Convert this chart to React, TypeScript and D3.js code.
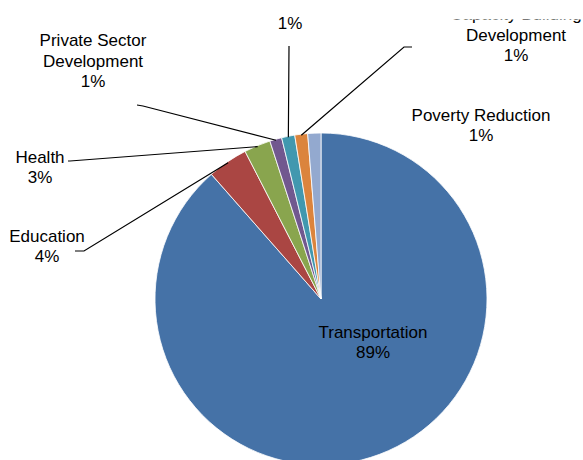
import React, { useEffect, useRef } from "react";
import * as d3 from "d3";

const sectors = [
  "Transportation",
  "Education",
  "Health",
  "Private Sector Development",
  "Energy",
  "Capacity Building Development",
  "Poverty Reduction",
];
const shares = [88.52, 3.92, 2.58, 1.17, 1.28, 1.25, 1.28];
const colors = ["#4572A7", "#AA4643", "#89A54E", "#71588F", "#4198AF", "#DB843D", "#93A9CF"];

// label text lines (name lines, percentage is added below them)
// the top of the reference is cropped, so the 5th slice's name is not shown
const labelLines = [
  ["Transportation"],
  ["Education"],
  ["Health"],
  ["Private Sector", "Development"],
  [],
  ["Capacity Building", "Development"],
  ["Poverty Reduction"],
];

const App = () => {
  const svgRef: any = useRef();

  useEffect(() => {
    const svg = d3.select(svgRef.current);
    svg.selectAll("*").remove();
    const width = 583;
    const height = 460;
    const cx = 321;
    const cy = 299;
    const r = 166;
    const lineH = 20.5;

    // label anchors (x center, baseline of last line), leader elbow, clip top
    const labelPos: any[] = [
      { x: 373, y: 358, leader: null, top: 0 },
      { x: 47, y: 262, leader: [[75, 251], [84, 251]], top: 0 },
      { x: 40, y: 183, leader: [[68, 161], [70, 161]], top: 0 },
      { x: 93, y: 87, leader: [[137, 105], [143, 106]], top: 0 },
      { x: 290, y: 29, leader: [[289, 46], [289, 47]], top: 0 },
      { x: 516, y: 61, leader: [[412, 47], [404, 47]], top: 19.5 },
      { x: 481, y: 141, leader: null, top: 0 },
    ];

    svg.attr("width", width).attr("height", height);

    const data = sectors.map((s, i) => ({ name: s, value: shares[i], i }));
    const pie = d3.pie<any>().sort(null).value((d) => d.value);
    const arcs = pie(data);
    const arc = d3.arc<any>().innerRadius(0).outerRadius(r);

    const g = svg.append("g").attr("transform", `translate(${cx},${cy})`);
    g.selectAll("path")
      .data(arcs)
      .join("path")
      .attr("d", arc)
      .attr("fill", (d) => colors[d.data.i])
      .attr("stroke", "#fff")
      .attr("stroke-width", 0.8);

    // leader lines
    const lineGen = d3.line();
    arcs.forEach((a, i) => {
      const p = labelPos[i];
      if (!p.leader) return;
      const mid = (a.startAngle + a.endAngle) / 2;
      const end: [number, number] = [cx + Math.sin(mid) * (r - 1), cy - Math.cos(mid) * (r - 1)];
      svg
        .append("path")
        .attr("d", lineGen([...p.leader, end] as any))
        .attr("fill", "none")
        .attr("stroke", "#000")
        .attr("stroke-width", 1.2);
    });

    const defs = svg.append("defs");
    arcs.forEach((a, i) => {
      const p = labelPos[i];
      const clipId = `labelClip${i}`;
      defs
        .append("clipPath")
        .attr("id", clipId)
        .append("rect")
        .attr("x", 0)
        .attr("y", p.top)
        .attr("width", width)
        .attr("height", height);
      const lines = [...labelLines[i], `${Math.round(a.data.value)}%`];
      const t = svg
        .append("text")
        .attr("clip-path", `url(#${clipId})`)
        .attr("text-anchor", "middle")
        .attr("font-family", "'Liberation Sans', Arial, sans-serif")
        .attr("font-size", 17)
        .attr("fill", "#000");
      lines.forEach((ln, k) => {
        t.append("tspan")
          .attr("x", p.x)
          .attr("y", p.y - (lines.length - 1 - k) * lineH)
          .text(ln);
      });
    });
  }, []);

  return (
    <svg
      ref={svgRef}
      style={{ position: "absolute", left: 0, top: 0, background: "#fff" }}
    ></svg>
  );
};

export default App;
